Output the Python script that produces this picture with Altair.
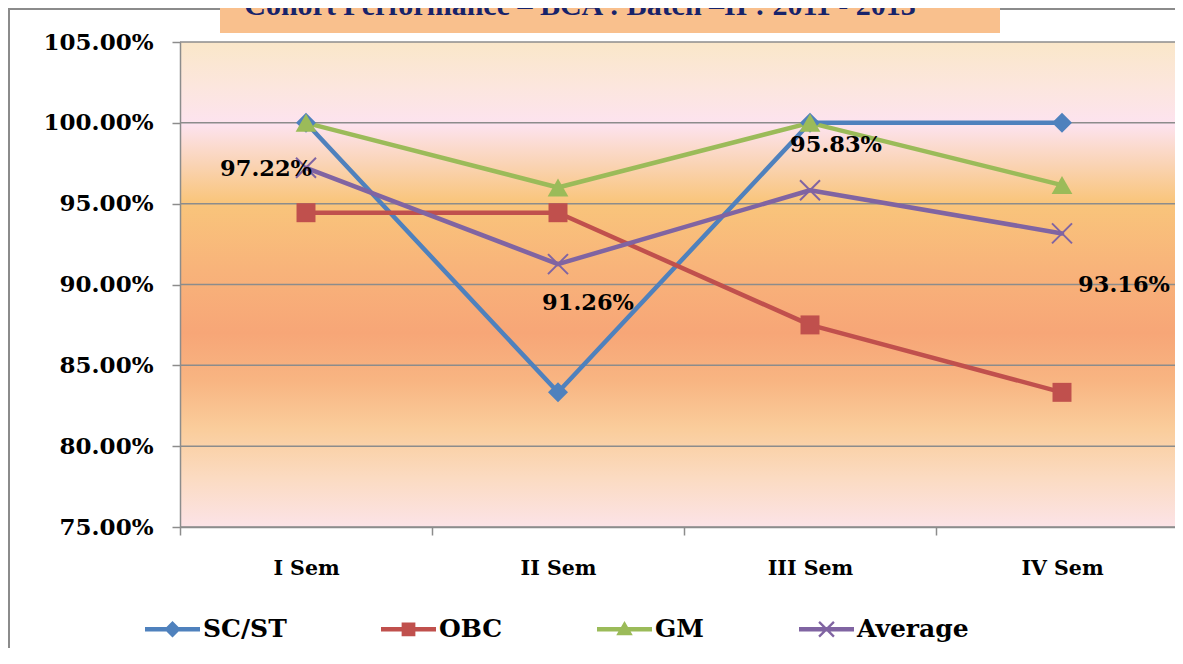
import altair as alt
import pandas as pd

TITLE = "Cohort Performance – BCA : Batch –II : 2011 - 2013"
SEMESTERS = ["I Sem", "II Sem", "III Sem", "IV Sem"]
SERIES = ["SC/ST", "OBC", "GM", "Average"]
SC_ST = [1.0, 0.8333, 1.0, 1.0]
OBC = [0.9444, 0.9444, 0.875, 0.8333]
GM = [1.0, 0.96, 1.0, 0.9615]
AVERAGE = [0.9722, 0.9126, 0.9583, 0.9316]
Y_TICKS = [0.75, 0.80, 0.85, 0.90, 0.95, 1.00, 1.05]
COLORS = ["#4F81BD", "#C0504D", "#9BBB59", "#8064A2"]

rows = []
for name, vals in zip(SERIES, [SC_ST, OBC, GM, AVERAGE]):
    for i, (sem, v) in enumerate(zip(SEMESTERS, vals)):
        rows.append({"series": name, "sem": sem, "i": i, "value": v})
df = pd.DataFrame(rows)
one = pd.DataFrame({"k": [0]})

W, H = 995, 485
FONT = "DejaVu Serif"
GRAY = "#8c8c8c"

# plot area continues past the right edge of the picture, as in the reference
x_scale = alt.Scale(type="band", domain=SEMESTERS, range=[0, 1008],
                    paddingInner=0, paddingOuter=0)
y_scale = alt.Scale(domain=[0.75, 1.05], nice=False, zero=False)
c_scale = alt.Scale(domain=SERIES, range=COLORS)

x_axis = alt.Axis(title=None, tickBand="extent", labelAngle=0, labelFont=FONT,
                  labelFontSize=20.5, labelFontWeight="bold", labelColor="black",
                  labelPadding=23, tickSize=8, tickColor=GRAY, tickWidth=1.5,
                  domainColor=GRAY, domainWidth=1.5, grid=False, zindex=1)
y_axis = alt.Axis(title=None, values=Y_TICKS, format=".2%", labelFont=FONT,
                  labelFontSize=23, labelFontWeight="bold", labelColor="black",
                  labelPadding=19, tickSize=8, tickColor=GRAY, tickWidth=1.5,
                  domainColor=GRAY, domainWidth=1.5, grid=False, zindex=1)


def X():
    return alt.X("sem:N", scale=x_scale, axis=x_axis)


def Y():
    return alt.Y("value:Q", scale=y_scale, axis=y_axis)


def C():
    return alt.Color("series:N", scale=c_scale, legend=None)


# background gradient of plot area
stops = [
    (0.00, "#FAE7C9"), (0.09, "#FCE6DD"), (0.17, "#FDE3EF"), (0.25, "#FAD4B6"),
    (0.33, "#F9C57B"), (0.47, "#F8B37A"), (0.60, "#F7A677"), (0.70, "#F8B582"),
    (0.80, "#FACD9C"), (0.90, "#FBDBC2"), (1.00, "#FCE3E7"),
]
bg = alt.Chart(one).mark_rect(
    color=alt.LinearGradient(gradient="linear", x1=0, x2=0, y1=0, y2=1,
                             stops=[alt.GradientStop(offset=o, color=c) for o, c in stops])
).encode(x=alt.value(0), x2=alt.value(W), y=alt.value(0), y2=alt.value(H))

grid = alt.Chart(pd.DataFrame({"value": Y_TICKS})).mark_rule(
    color=GRAY, strokeWidth=1.5
).encode(y=Y())

lines = alt.Chart(df).mark_line(strokeWidth=4.5, strokeJoin="round", strokeCap="round").encode(
    x=X(), y=Y(), color=C(), order=alt.Order("i:Q"))


def filled_pts(name, shape, size):
    return alt.Chart(df).transform_filter(alt.datum.series == name).mark_point(
        shape=shape, filled=True, size=size, opacity=1
    ).encode(x=X(), y=Y(), color=C())


p_sc = filled_pts("SC/ST", "diamond", 400)
p_obc = filled_pts("OBC", "square", 360)
p_gm = filled_pts("GM", "triangle-up", 430)
p_avg = alt.Chart(df).transform_filter(alt.datum.series == "Average").mark_point(
    shape="M-1,-1L1,1M-1,1L1,-1", filled=False, size=400, strokeWidth=2, opacity=1
).encode(x=X(), y=Y(), color=C())

label_offsets = {"I Sem": (-40, 1), "II Sem": (30, 39), "III Sem": (26, -45), "IV Sem": (62, 52)}
labels = []
for sem, (dx, dy) in label_offsets.items():
    labels.append(
        alt.Chart(df).transform_filter(
            (alt.datum.series == "Average") & (alt.datum.sem == sem)
        ).mark_text(dx=dx, dy=dy, align="center", baseline="middle", font=FONT,
                    fontSize=22.5, fontWeight="bold", color="black").encode(
            x=X(), y=Y(), text=alt.Text("value:Q", format=".2%"))
    )


# legend symbols: line with marker in the middle (filled polygons)
def poly(pts):
    s = sum(pts[k][0] * pts[(k + 1) % len(pts)][1] - pts[(k + 1) % len(pts)][0] * pts[k][1]
            for k in range(len(pts)))
    if s < 0:
        pts = pts[::-1]
    return "M" + "L".join(f"{x:.3f},{y:.3f}" for x, y in pts) + "Z"


t = 0.08
line_p = poly([(-1, -t), (1, -t), (1, t), (-1, t)])
diam_p = poly([(0, -0.3), (0.3, 0), (0, 0.3), (-0.3, 0)])
sq_p = poly([(-0.25, -0.25), (0.25, -0.25), (0.25, 0.25), (-0.25, 0.25)])
tri_p = poly([(0, -0.3), (0.3, 0.22), (-0.3, 0.22)])
a, d = 0.27, 0.03
x1_p = poly([(-a + d, -a - d), (a + d, a - d), (a - d, a + d), (-a - d, -a + d)])
x2_p = poly([(-a + d, a + d), (a + d, -a + d), (a - d, -a - d), (-a - d, a - d)])
LEG_PATHS = [line_p + diam_p, line_p + sq_p, line_p + tri_p, line_p + x1_p + x2_p]

LEG = alt.Legend(title=None, orient="none", legendX=-35, legendY=559.5, direction="horizontal",
                 symbolSize=3025, symbolStrokeWidth=0, symbolOpacity=1, labelFont=FONT,
                 labelFontSize=25, labelFontWeight="bold", labelColor="black", labelOffset=3,
                 columnPadding=94, padding=0, labelLimit=400)

leg = alt.Chart(df).mark_point(filled=True, opacity=0).encode(
    x=X(), y=Y(),
    color=alt.Color("series:N", scale=c_scale, legend=LEG),
    shape=alt.Shape("series:N", scale=alt.Scale(domain=SERIES, range=LEG_PATHS), legend=LEG),
)

frame = alt.Chart(one).mark_rect(fillOpacity=0, stroke="#8b8b8b", strokeWidth=2).encode(
    x=alt.value(-171), x2=alt.value(1150), y=alt.value(-33), y2=alt.value(800))

title_box = alt.Chart(one).mark_rect(color="#F9C08D").encode(
    x=alt.value(40), x2=alt.value(820), y=alt.value(-60), y2=alt.value(-9))

title_text = alt.Chart(one).mark_text(
    font="Liberation Serif", fontSize=30, fontWeight="bold", color="#17236B",
    align="center", baseline="alphabetic"
).encode(x=alt.value(400), y=alt.value(-27), text=alt.value(TITLE))

chart = alt.layer(
    bg, grid, lines, p_sc, p_obc, p_gm, p_avg, *labels, leg, frame, title_box, title_text
).resolve_scale(color="independent", shape="independent").properties(
    width=W, height=H,
    autosize=alt.AutoSizeParams(type="none"),
    padding={"left": 172, "top": 34, "right": 0, "bottom": 121},
    background="white",
).configure_view(strokeWidth=0)

chart.save("out.html", embed_options={"renderer": "svg", "actions": False})
